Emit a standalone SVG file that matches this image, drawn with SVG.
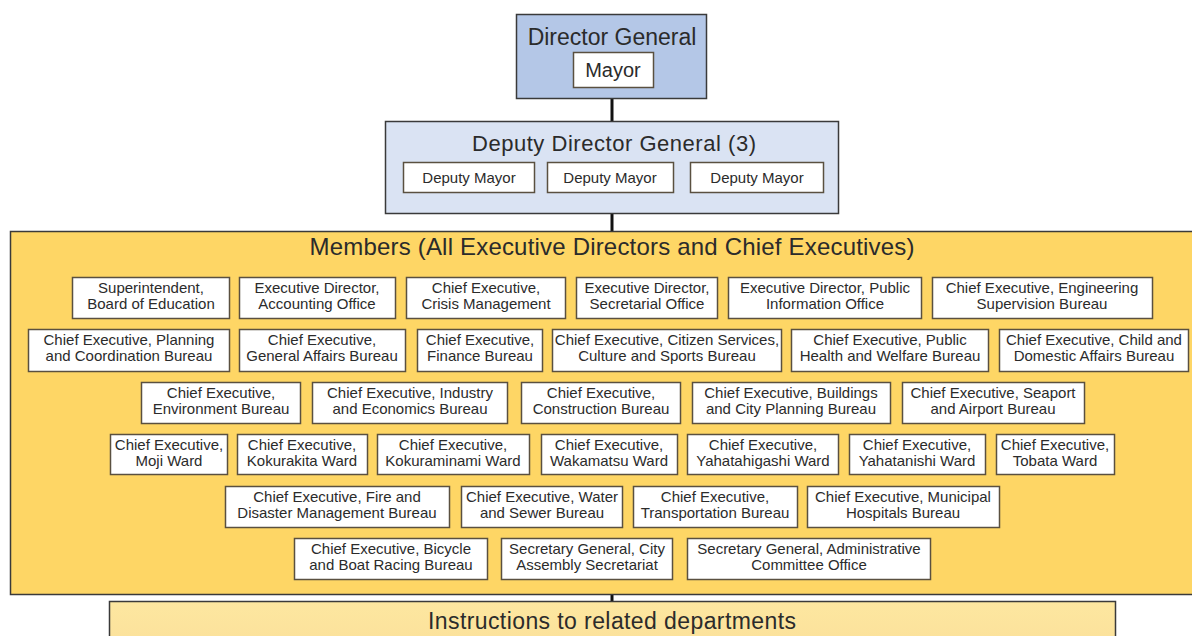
<svg xmlns="http://www.w3.org/2000/svg" width="1192" height="636" viewBox="0 0 1192 636">
<defs>
<style>
.t{font-family:"Liberation Sans",Arial,sans-serif;fill:#2b2b2b;text-anchor:middle}
.big{font-size:23px}
.mid{font-size:22px}
.dm{font-size:15px}
.sm{font-size:15px}
.box{fill:#ffffff;stroke:#5a5040;stroke-width:1.5}
.conn{stroke:#111;stroke-width:3;fill:none}
</style>
<linearGradient id="instr" x1="0" y1="0" x2="0" y2="1">
<stop offset="0" stop-color="#fde7a0"/>
<stop offset="1" stop-color="#fbe09a"/>
</linearGradient>
</defs>
<rect width="1192" height="636" fill="#ffffff"/>
<g id="connectors">
<line class="conn" x1="612" y1="98" x2="612" y2="121"/>
<line class="conn" x1="612" y1="213" x2="612" y2="231"/>
<line class="conn" x1="612" y1="594" x2="612" y2="601"/>
</g>
<g id="director-general">
<rect x="516.5" y="14.5" width="190" height="84" fill="#b4c7e7" stroke="#3a3a3a" stroke-width="1.5"/>
<text class="t big" x="612" y="45">Director General</text>
<rect class="box" x="573.5" y="52.5" width="80" height="35"/>
<text class="t" x="613" y="77" font-size="20">Mayor</text>
</g>
<g id="deputy-director-general">
<rect x="385.5" y="121.5" width="453" height="92" fill="#dae3f3" stroke="#3a3a3a" stroke-width="1.5"/>
<text class="t mid" x="614" y="151" textLength="284">Deputy Director General (3)</text>
<rect class="box" x="403.5" y="162.5" width="131" height="30"/>
<text class="t dm" x="469" y="183">Deputy Mayor</text>
<rect class="box" x="547.5" y="162.5" width="126" height="30"/>
<text class="t dm" x="610" y="183">Deputy Mayor</text>
<rect class="box" x="690.5" y="162.5" width="133" height="30"/>
<text class="t dm" x="757" y="183">Deputy Mayor</text>
</g>
<g id="members">
<rect x="10.5" y="231.5" width="1190" height="363" fill="#fed665" stroke="#3a3a3a" stroke-width="1.5"/>
<text class="t" font-size="24" x="612" y="255" fill="#3b3b3b" textLength="605">Members (All Executive Directors and Chief Executives)</text>
</g>
<g id="m01"><rect class="box" x="72.5" y="277.5" width="157" height="41"/><text class="t sm" x="151" y="293">Superintendent,</text><text class="t sm" x="151" y="309">Board of Education</text></g>
<g id="m02"><rect class="box" x="239.5" y="277.5" width="156" height="41"/><text class="t sm" x="317" y="293">Executive Director,</text><text class="t sm" x="317" y="309">Accounting Office</text></g>
<g id="m03"><rect class="box" x="406.5" y="277.5" width="159" height="41"/><text class="t sm" x="486" y="293">Chief Executive,</text><text class="t sm" x="486" y="309">Crisis Management</text></g>
<g id="m04"><rect class="box" x="576.5" y="277.5" width="141" height="41"/><text class="t sm" x="647" y="293">Executive Director,</text><text class="t sm" x="647" y="309">Secretarial Office</text></g>
<g id="m05"><rect class="box" x="728.5" y="277.5" width="193" height="41"/><text class="t sm" x="825" y="293">Executive Director, Public</text><text class="t sm" x="825" y="309">Information Office</text></g>
<g id="m06"><rect class="box" x="932.5" y="277.5" width="220" height="41"/><text class="t sm" x="1042" y="293">Chief Executive, Engineering</text><text class="t sm" x="1042" y="309">Supervision Bureau</text></g>
<g id="m07"><rect class="box" x="28.5" y="329.5" width="201" height="42"/><text class="t sm" x="129" y="345">Chief Executive, Planning</text><text class="t sm" x="129" y="361">and Coordination Bureau</text></g>
<g id="m08"><rect class="box" x="239.5" y="329.5" width="166" height="42"/><text class="t sm" x="322" y="345">Chief Executive,</text><text class="t sm" x="322" y="361">General Affairs Bureau</text></g>
<g id="m09"><rect class="box" x="417.5" y="329.5" width="125" height="42"/><text class="t sm" x="480" y="345">Chief Executive,</text><text class="t sm" x="480" y="361">Finance Bureau</text></g>
<g id="m10"><rect class="box" x="552.5" y="329.5" width="229" height="42"/><text class="t sm" x="667" y="345">Chief Executive, Citizen Services,</text><text class="t sm" x="667" y="361">Culture and Sports Bureau</text></g>
<g id="m11"><rect class="box" x="791.5" y="329.5" width="197" height="42"/><text class="t sm" x="890" y="345">Chief Executive, Public</text><text class="t sm" x="890" y="361">Health and Welfare Bureau</text></g>
<g id="m12"><rect class="box" x="999.5" y="329.5" width="189" height="42"/><text class="t sm" x="1094" y="345">Chief Executive, Child and</text><text class="t sm" x="1094" y="361">Domestic Affairs Bureau</text></g>
<g id="m13"><rect class="box" x="141.5" y="382.5" width="159" height="41"/><text class="t sm" x="221" y="398">Chief Executive,</text><text class="t sm" x="221" y="414">Environment Bureau</text></g>
<g id="m14"><rect class="box" x="312.5" y="382.5" width="195" height="41"/><text class="t sm" x="410" y="398">Chief Executive, Industry</text><text class="t sm" x="410" y="414">and Economics Bureau</text></g>
<g id="m15"><rect class="box" x="521.5" y="382.5" width="159" height="41"/><text class="t sm" x="601" y="398">Chief Executive,</text><text class="t sm" x="601" y="414">Construction Bureau</text></g>
<g id="m16"><rect class="box" x="692.5" y="382.5" width="198" height="41"/><text class="t sm" x="791" y="398">Chief Executive, Buildings</text><text class="t sm" x="791" y="414">and City Planning Bureau</text></g>
<g id="m17"><rect class="box" x="902.5" y="382.5" width="182" height="41"/><text class="t sm" x="993" y="398">Chief Executive, Seaport</text><text class="t sm" x="993" y="414">and Airport Bureau</text></g>
<g id="m18"><rect class="box" x="110.5" y="434.5" width="117" height="40"/><text class="t sm" x="169" y="450">Chief Executive,</text><text class="t sm" x="169" y="466">Moji Ward</text></g>
<g id="m19"><rect class="box" x="237.5" y="434.5" width="130" height="40"/><text class="t sm" x="302" y="450">Chief Executive,</text><text class="t sm" x="302" y="466">Kokurakita Ward</text></g>
<g id="m20"><rect class="box" x="377.5" y="434.5" width="152" height="40"/><text class="t sm" x="453" y="450">Chief Executive,</text><text class="t sm" x="453" y="466">Kokuraminami Ward</text></g>
<g id="m21"><rect class="box" x="541.5" y="434.5" width="136" height="40"/><text class="t sm" x="609" y="450">Chief Executive,</text><text class="t sm" x="609" y="466">Wakamatsu Ward</text></g>
<g id="m22"><rect class="box" x="687.5" y="434.5" width="151" height="40"/><text class="t sm" x="763" y="450">Chief Executive,</text><text class="t sm" x="763" y="466">Yahatahigashi Ward</text></g>
<g id="m23"><rect class="box" x="849.5" y="434.5" width="136" height="40"/><text class="t sm" x="917" y="450">Chief Executive,</text><text class="t sm" x="917" y="466">Yahatanishi Ward</text></g>
<g id="m24"><rect class="box" x="996.5" y="434.5" width="118" height="40"/><text class="t sm" x="1055" y="450">Chief Executive,</text><text class="t sm" x="1055" y="466">Tobata Ward</text></g>
<g id="m25"><rect class="box" x="225.5" y="486.5" width="224" height="41"/><text class="t sm" x="337" y="502">Chief Executive, Fire and</text><text class="t sm" x="337" y="518">Disaster Management Bureau</text></g>
<g id="m26"><rect class="box" x="461.5" y="486.5" width="161" height="41"/><text class="t sm" x="542" y="502">Chief Executive, Water</text><text class="t sm" x="542" y="518">and Sewer Bureau</text></g>
<g id="m27"><rect class="box" x="633.5" y="486.5" width="164" height="41"/><text class="t sm" x="715" y="502">Chief Executive,</text><text class="t sm" x="715" y="518">Transportation Bureau</text></g>
<g id="m28"><rect class="box" x="807.5" y="486.5" width="192" height="41"/><text class="t sm" x="903" y="502">Chief Executive, Municipal</text><text class="t sm" x="903" y="518">Hospitals Bureau</text></g>
<g id="m29"><rect class="box" x="294.5" y="538.5" width="193" height="41"/><text class="t sm" x="391" y="554">Chief Executive, Bicycle</text><text class="t sm" x="391" y="570">and Boat Racing Bureau</text></g>
<g id="m30"><rect class="box" x="501.5" y="538.5" width="171" height="41"/><text class="t sm" x="587" y="554">Secretary General, City</text><text class="t sm" x="587" y="570">Assembly Secretariat</text></g>
<g id="m31"><rect class="box" x="687.5" y="538.5" width="243" height="41"/><text class="t sm" x="809" y="554">Secretary General, Administrative</text><text class="t sm" x="809" y="570">Committee Office</text></g>
<g id="instructions">
<rect x="109.5" y="601.5" width="1006" height="50" fill="url(#instr)" stroke="#3a3a3a" stroke-width="1.5"/>
<text class="t" font-size="23" x="612" y="629" textLength="368">Instructions to related departments</text>
</g>
</svg>
